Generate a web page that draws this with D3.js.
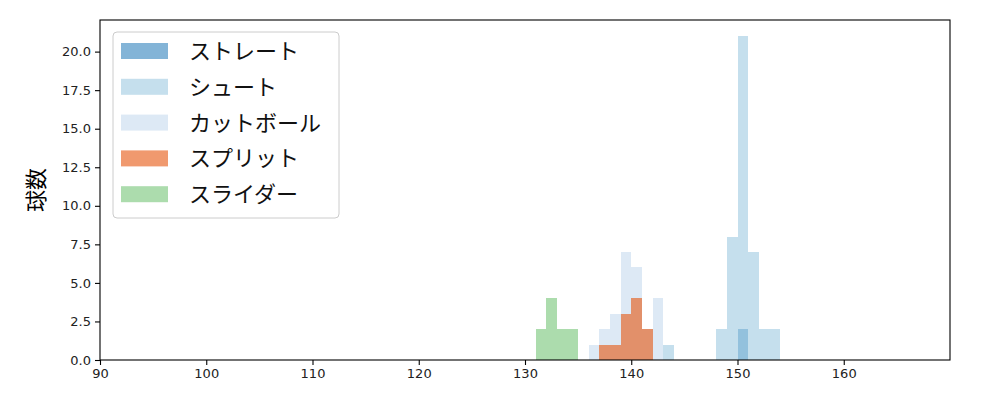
<!DOCTYPE html>
<html><head><meta charset="utf-8">
<script src="https://cdn.jsdelivr.net/npm/d3@7"></script>
<style>body{margin:0;background:#fff}svg{display:block}text{font-family:"Noto Sans CJK JP","DejaVu Sans",sans-serif}</style>
</head><body><svg id="c" width="1000" height="400"></svg>
<script>
const seriesNames = ["ストレート","シュート","カットボール","スプリット","スライダー"];
const seriesColors = ["#3182bd","#9ecae1","#c6dbef","#e6550d","#74c476"];
const binWidth = 1;
const straightStarts = [150];
const straightCounts = [2];
const shootStarts = [143,148,149,150,151,152,153];
const shootCounts = [1,2,8,21,7,2,2];
const cutStarts = [136,137,138,139,140,141,142];
const cutCounts = [1,2,3,7,6,2,4];
const splitStarts = [137,138,139,140,141];
const splitCounts = [1,1,3,4,2];
const sliderStarts = [131,132,133,134];
const sliderCounts = [2,4,2,2];
const xTicks = [90,100,110,120,130,140,150,160];
const yTicks = [0,2.5,5,7.5,10,12.5,15,17.5,20];

const allStarts = [straightStarts,shootStarts,cutStarts,splitStarts,sliderStarts];
const allCounts = [straightCounts,shootCounts,cutCounts,splitCounts,sliderCounts];

const svg = d3.select("#c");
const L=100,R=950,T=20,B=360;
const x = d3.scaleLinear().domain([90,170]).range([L,R]);
const y = d3.scaleLinear().domain([0,22.05]).range([B,T]);

allStarts.forEach((starts,i)=>{
  const data = starts.map((s,j)=>({s, c: allCounts[i][j]}));
  svg.append("g").attr("shape-rendering","crispEdges").selectAll("rect").data(data).join("rect")
    .attr("x", d=>x(d.s)).attr("width", d=>x(d.s+binWidth)-x(d.s))
    .attr("y", d=>y(d.c)).attr("height", d=>y(0)-y(d.c))
    .attr("fill", seriesColors[i]).attr("fill-opacity",0.6);
});

const xa = svg.append("g").attr("transform",`translate(0,${B})`)
  .call(d3.axisBottom(x).tickValues(xTicks).tickFormat(d3.format("d")).tickSize(5).tickPadding(4));
const ya = svg.append("g").attr("transform",`translate(${L},0)`)
  .call(d3.axisLeft(y).tickValues(yTicks).tickFormat(d3.format(".1f")).tickSize(5).tickPadding(4));
[xa,ya].forEach(a=>{
  a.select(".domain").remove();
  a.selectAll("line").attr("stroke","#000").attr("stroke-width",1.1);
  a.selectAll("text").style("font-size","13px").style("font-family","'DejaVu Sans',sans-serif").attr("fill","#222");
});
svg.append("rect").attr("x",L).attr("y",T).attr("width",R-L).attr("height",B-T)
  .attr("fill","none").attr("stroke","#000").attr("stroke-width",1.1);

svg.append("text").attr("transform",`translate(44,${(T+B)/2}) rotate(-90)`)
  .attr("text-anchor","middle").attr("font-size",22).text("球数");

const lg = svg.append("g");
lg.append("rect").attr("x",113).attr("y",32).attr("width",226).attr("height",186)
  .attr("rx",4).attr("fill","#fff").attr("fill-opacity",0.8).attr("stroke","#ccc");
seriesNames.forEach((n,i)=>{
  const cy = 51 + i*35.8;
  lg.append("rect").attr("x",121).attr("y",cy-8).attr("width",47).attr("height",16)
    .attr("fill",seriesColors[i]).attr("fill-opacity",0.6);
  lg.append("text").attr("x",189).attr("y",cy).attr("dy","0.36em")
    .attr("font-size",22).attr("fill","#111").text(n);
});
</script></body></html>
